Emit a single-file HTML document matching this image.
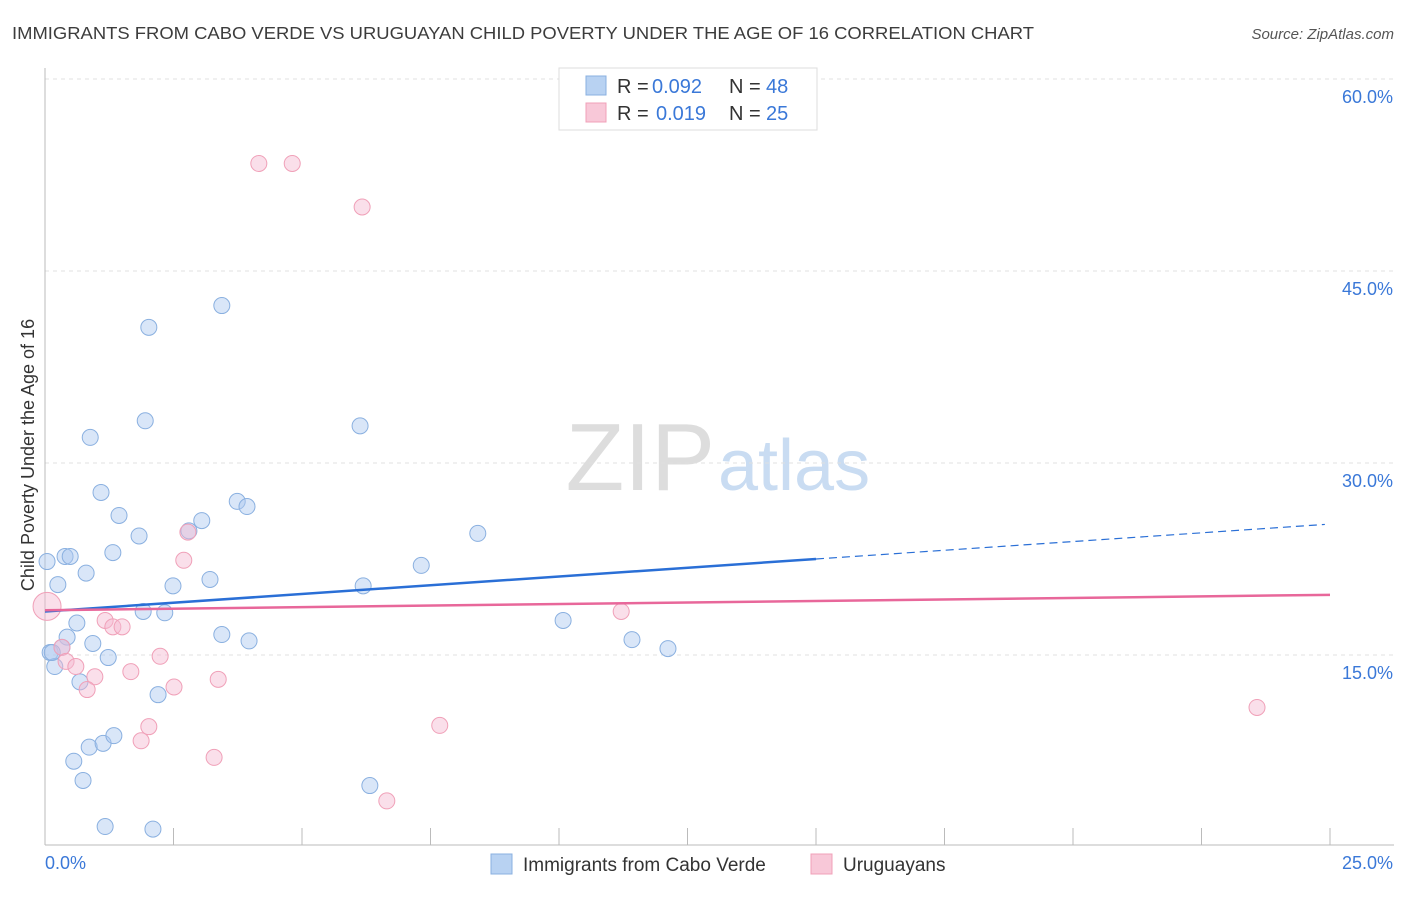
<!DOCTYPE html>
<html><head><meta charset="utf-8"><style>
body{margin:0;background:#fff;font-family:"Liberation Sans",sans-serif;}
svg text{font-family:"Liberation Sans",sans-serif;}
</style></head><body>
<svg id="chart" width="1406" height="892" xmlns="http://www.w3.org/2000/svg">
<text x="12" y="39" font-size="17.5" fill="#3c3c3c" textLength="1022" lengthAdjust="spacingAndGlyphs">IMMIGRANTS FROM CABO VERDE VS URUGUAYAN CHILD POVERTY UNDER THE AGE OF 16 CORRELATION CHART</text>
<text x="1394" y="39" font-size="15" fill="#555" text-anchor="end" font-style="italic">Source: ZipAtlas.com</text>
<text x="715" y="490" font-size="96" text-anchor="end" fill="#ddd" font-family="Liberation Serif">ZIP</text>
<text x="718" y="490" font-size="72" fill="#c9dcf2">atlas</text>
<text transform="translate(34,455) rotate(-90)" font-size="18" fill="#333" text-anchor="middle">Child Poverty Under the Age of 16</text>
<g id="grid"></g><g id="marks"></g>
<g>
<rect x="559" y="68" width="258" height="62" fill="#fff" stroke="#ddd"/>
<rect x="586" y="76" width="20" height="19" fill="#b8d2f2" stroke="#8ab0e0"/>
<text x="617" y="93" font-size="20" fill="#333">R =</text>
<text x="652" y="93" font-size="20" fill="#3a78d8">0.092</text>
<text x="729" y="93" font-size="20" fill="#333">N =</text>
<text x="766" y="93" font-size="20" fill="#3a78d8">48</text>
<rect x="586" y="103" width="20" height="19" fill="#f8c8d8" stroke="#f0a0b8"/>
<text x="617" y="120" font-size="20" fill="#333">R =</text>
<text x="656" y="120" font-size="20" fill="#3a78d8">0.019</text>
<text x="729" y="120" font-size="20" fill="#333">N =</text>
<text x="766" y="120" font-size="20" fill="#3a78d8">25</text>
</g>
<g>
<rect x="491" y="854" width="21" height="20" fill="#b8d2f2" stroke="#8ab0e0"/>
<text x="523" y="871" font-size="19" fill="#333">Immigrants from Cabo Verde</text>
<rect x="811" y="854" width="21" height="20" fill="#f8c8d8" stroke="#f0a0b8"/>
<text x="843" y="871" font-size="19" fill="#333">Uruguayans</text>
</g>
</svg>
<script>
const xTicksPct=[0,25];
const yTicks=[15,30,45,60];
const blueX=[.04,.25,.39,.49,.43,.62,.80,.10,.19,.33,.93,.68,1.23,1.32,1.09,1.44,.88,1.83,1.95,2.02,1.91,2.33,2.49,2.20,2.80,3.05,3.21,3.44,3.74,3.93,3.44,3.97,.56,.74,.86,1.13,1.34,1.17,2.10,6.13,6.19,6.32,7.32,8.42,10.08,11.42,12.12,.14];
const blueY=[22.3,20.5,22.7,22.7,16.4,17.5,21.4,15.2,14.1,15.6,15.9,12.9,14.8,23.0,27.7,25.9,32.0,24.3,33.3,40.6,18.4,18.3,20.4,11.9,24.7,25.5,20.9,42.3,27.0,26.6,16.6,16.1,6.7,5.2,7.8,8.1,8.7,1.6,1.4,32.9,20.4,4.8,22.0,24.5,17.7,16.2,15.5,15.2];
const pinkX=[.04,4.16,4.81,6.17,2.78,2.70,1.17,1.32,1.50,.33,.41,.60,.97,.82,1.67,2.24,2.51,3.37,2.02,1.87,3.29,7.68,6.65,11.21,23.58];
const pinkY=[18.8,53.4,53.4,50.0,24.6,22.4,17.7,17.2,17.2,15.6,14.5,14.1,13.3,12.3,13.7,14.9,12.5,13.1,9.4,8.3,7.0,9.5,3.6,18.4,10.9];
const pinkR=[14,8,8,8,8,8,8,8,8,8,8,8,8,8,8,8,8,8,8,8,8,8,8,8,8];
const blueTrend=[18.4,22.5,25.2]; const blueTrendX=[0,15,24.9];
const pinkTrend=[18.5,19.7]; const pinkTrendX=[0,25];
const X=v=>45+v*51.4, Y=v=>847-v*12.8;
const NS="http://www.w3.org/2000/svg";
const grid=document.getElementById('grid'), marks=document.getElementById('marks');
function mk(tag,attrs,parent){const e=document.createElementNS(NS,tag);for(const k in attrs)e.setAttribute(k,attrs[k]);parent.appendChild(e);return e;}
yTicks.forEach(t=>{
 const l=mk('line',{x1:45,x2:1394,y1:Y(t),y2:Y(t),stroke:'#e0e0e0','stroke-dasharray':'4,4'},grid);
 
 
 const tx=mk('text',{x:1393,y:Y(t)+24,'font-size':18,fill:'#3a78d8','text-anchor':'end'},grid);
 tx.textContent=t.toFixed(1)+'%';
 
 
});
const ax=mk('line',{x1:45,x2:1394,y1:845,y2:845,stroke:'#bbb'},grid);


const ay=mk('line',{x1:45,x2:45,y1:68,y2:845,stroke:'#bbb'},grid);


for(let i=1;i<=10;i++){const t=mk('line',{x1:X(i*2.5),x2:X(i*2.5),y1:828,y2:845,stroke:'#bbb'},grid);
 
 }
xTicksPct.forEach((t,i)=>{const tx=mk('text',{x:i?1393:45,y:869,'font-size':18,fill:'#3a78d8','text-anchor':i?'end':'start'},grid);
 tx.textContent=t.toFixed(1)+'%';
 
 });
blueX.forEach((v,i)=>{const c=mk('circle',{cx:X(v),cy:Y(blueY[i]),r:8,fill:'rgba(170,200,240,0.45)',stroke:'#8ab0e0','stroke-width':1},marks);
 
 });
pinkX.forEach((v,i)=>{const c=mk('circle',{cx:X(v),cy:Y(pinkY[i]),r:pinkR[i],fill:'rgba(245,185,208,0.45)',stroke:'#f0a0b8','stroke-width':1},marks);
 
 });
const b1=mk('line',{x1:X(blueTrendX[0]),y1:Y(blueTrend[0]),x2:X(blueTrendX[1]),y2:Y(blueTrend[1]),stroke:'#2a6fd6','stroke-width':2.5},marks);


const b2=mk('line',{x1:X(blueTrendX[1]),y1:Y(blueTrend[1]),x2:X(blueTrendX[2]),y2:Y(blueTrend[2]),stroke:'#2a6fd6','stroke-width':1.2,'stroke-dasharray':'8,5'},marks);


const p1=mk('line',{x1:X(pinkTrendX[0]),y1:Y(pinkTrend[0]),x2:X(pinkTrendX[1]),y2:Y(pinkTrend[1]),stroke:'#e8679a','stroke-width':2.5},marks);


</script>
</body></html>
